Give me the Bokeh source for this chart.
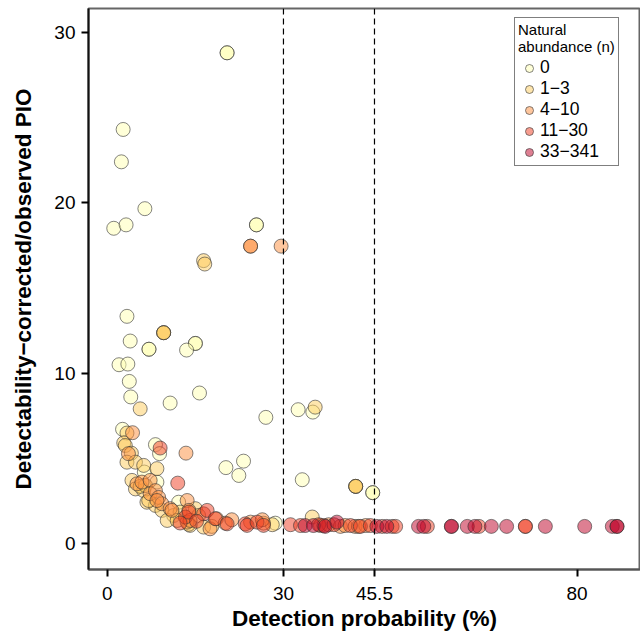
from bokeh.plotting import figure
from bokeh.models import Range1d, FixedTicker, Span, Legend, LegendItem, ColumnDataSource
from bokeh.embed import file_html
from bokeh.resources import INLINE

categories = ["0", "1\u22123", "4\u221210", "11\u221230", "33\u2212341"]
colors = ["#ffffb2", "#fecc5c", "#fd8d3c", "#f03b20", "#bd0026"]

x_ticks = [0, 30, 45.5, 80]
x_tick_labels = ["0", "30", "45.5", "80"]
y_ticks = [0, 10, 20, 30]
thresholds = [30, 45.5]

x_n0 = [20.4, 20.4, 2.7, 2.4, 6.4, 1.1, 3.2, 25.4, 25.4, 3.35, 3.9, 7.1, 7.1, 15.0, 15.0,
        13.5, 2.0, 3.5, 3.75, 4.0, 10.7, 15.7, 27.0, 32.5, 35.0, 33.2, 45.2, 45.2, 2.6,
        8.2, 8.9, 6.3, 8.45, 12.15, 20.2, 23.2, 22.4, 28.6]
y_n0 = [28.8, 28.8, 24.3, 22.4, 19.65, 18.5, 18.7, 18.7, 18.7, 13.33, 11.88, 11.4, 11.4, 11.74, 11.74,
        11.35, 10.49, 10.53, 9.51, 8.6, 8.24, 8.83, 7.4, 7.85, 7.71, 3.74, 2.98, 2.98, 6.7,
        5.8, 5.27, 4.19, 3.6, 2.42, 4.45, 4.83, 3.99, 1.19]

x_n1 = [16.4, 16.6, 9.6, 9.6, 9.6, 5.6, 35.4, 42.3, 42.3, 42.3, 34.9, 3.35, 2.8, 3.07, 4.1,
        3.35, 4.8, 6.2, 8.45, 4.2, 4.8, 6.2, 6.75, 8.2, 7.05, 9.3, 11.3, 12.4, 15.0, 15.55,
        10.2, 11.9, 14.1, 16.4, 17.8, 13.85, 28.1, 5.6, 6.5]
y_n1 = [16.6, 16.4, 12.37, 12.37, 12.37, 7.9, 8.0, 3.35, 3.35, 3.35, 1.55, 6.48, 5.9, 5.75, 5.3,
        4.77, 4.77, 4.58, 4.39, 3.7, 3.2, 3.1, 2.42, 2.23, 2.52, 1.94, 1.64, 1.84, 2.04, 1.64,
        1.35, 1.35, 1.06, 0.96, 1.0, 1.12, 1.1, 3.35, 3.4]

x_n2 = [24.4, 24.4, 29.6, 4.3, 3.6, 13.4, 5.05, 5.9, 7.3, 7.3, 8.2, 8.75, 9.3, 13.6, 10.7,
        13.9, 13.6, 17.5, 18.6, 20.1, 21.2, 24.4, 26.6, 26.4, 36.3, 37.7, 39.7, 40.5, 42.2,
        44.0, 42.8, 8.45, 11.0, 14.1]
y_n2 = [17.45, 17.45, 17.45, 6.5, 5.27, 5.3, 3.5, 3.6, 3.7, 2.92, 3.1, 2.7, 2.33, 2.52, 2.04,
        1.94, 1.25, 0.86, 1.45, 1.19, 1.39, 1.25, 1.19, 1.39, 1.05, 1.1, 1.0, 1.05, 1.0,
        1.05, 1.0, 2.52, 1.94, 1.35]

x_n3 = [9.0, 12.0, 13.3, 16.4, 17.0, 18.4, 20.4, 23.5, 23.8, 25.5, 26.6, 31.2, 32.9, 36.0,
        36.9, 38.6, 41.4, 43.1, 44.8, 46.8, 48.5, 49.1, 54.5, 63.3, 71.2, 71.2, 13.9, 12.4, 15.2]
y_n3 = [5.6, 3.54, 1.55, 1.74, 1.94, 1.45, 1.15, 1.15, 1.06, 1.25, 1.06, 1.1, 1.05, 1.1,
        1.05, 1.1, 1.05, 1.0, 1.05, 1.0, 1.0, 1.0, 1.0, 1.0, 1.0, 1.0, 1.84, 1.2, 1.3]

x_n4 = [33.7, 35.1, 37.1, 39.1, 45.9, 47.6, 53.0, 53.9, 58.6, 58.6, 61.3, 62.6, 65.4, 68.0,
        74.6, 81.3, 86.0, 86.8, 86.8]
y_n4 = [1.05, 1.05, 1.0, 1.25, 1.0, 1.0, 1.0, 1.0, 1.0, 1.0, 1.0, 1.0, 1.0, 1.0,
        1.0, 1.0, 1.0, 1.0, 1.0]

xs = [x_n0, x_n1, x_n2, x_n3, x_n4]
ys = [y_n0, y_n1, y_n2, y_n3, y_n4]

FONT = "Liberation Sans"

p = figure(width=640, height=635, output_backend="svg", toolbar_location=None,
           x_range=Range1d(-3.2, 90.8), y_range=Range1d(-1.53, 31.4),
           min_border_left=88, min_border_right=0, min_border_top=8, min_border_bottom=66)
p.grid.visible = False
p.outline_line_color = "#666666"
p.outline_line_width = 2

items = []
for cat, col, xv, yv in zip(categories, colors, xs, ys):
    src = ColumnDataSource(dict(x=xv, y=yv))
    r = p.scatter("x", "y", source=src, size=14, fill_color=col, fill_alpha=0.5,
                  line_color="#333333", line_alpha=0.6, line_width=1)
    items.append(LegendItem(label=cat, renderers=[r]))

for t in thresholds:
    p.add_layout(Span(location=t, dimension="height", line_color="black",
                      line_dash="6 4", line_width=1.2))

legend = Legend(items=items, location=(426, 403), title="Natural\nabundance (n)",
                title_text_font=FONT, title_text_font_size="15px", title_text_font_style="normal",
                title_text_color="black",
                label_text_font=FONT, label_text_font_size="17.5px", label_text_color="black",
                glyph_width=22, glyph_height=20, label_standoff=-4, label_height=19,
                spacing=0, padding=3, margin=0, border_line_color="black", border_line_width=1,
                title_standoff=2)
p.add_layout(legend)

p.xaxis.ticker = FixedTicker(ticks=x_ticks)
p.xaxis.major_label_overrides = {t: l for t, l in zip(x_ticks, x_tick_labels)}
p.yaxis.ticker = FixedTicker(ticks=y_ticks)
for ax in (p.xaxis, p.yaxis):
    ax.minor_tick_line_color = None
    ax.major_tick_in = 0
    ax.major_tick_out = 7
    ax.major_tick_line_width = 2
    ax.major_label_text_font = FONT
    ax.major_label_text_font_size = "19px"
    ax.major_label_text_color = "black"
    ax.axis_label_text_font = FONT
    ax.axis_label_text_font_style = "bold"
    ax.axis_label_text_font_size = "22.5px"
    ax.axis_label_text_color = "black"
p.xaxis.axis_line_color = "#555555"
p.xaxis.axis_line_width = 2
p.yaxis.axis_line_color = "#111111"
p.yaxis.axis_line_width = 2
p.xaxis.axis_label = "Detection probability (%)"
p.yaxis.axis_label = "Detectability\u2212corrected/observed PIO"
p.xaxis.major_label_standoff = 10
p.yaxis.major_label_standoff = 6
p.xaxis.axis_label_standoff = 3
p.yaxis.axis_label_standoff = 15

open("out.html", "w").write(file_html(p, INLINE))
